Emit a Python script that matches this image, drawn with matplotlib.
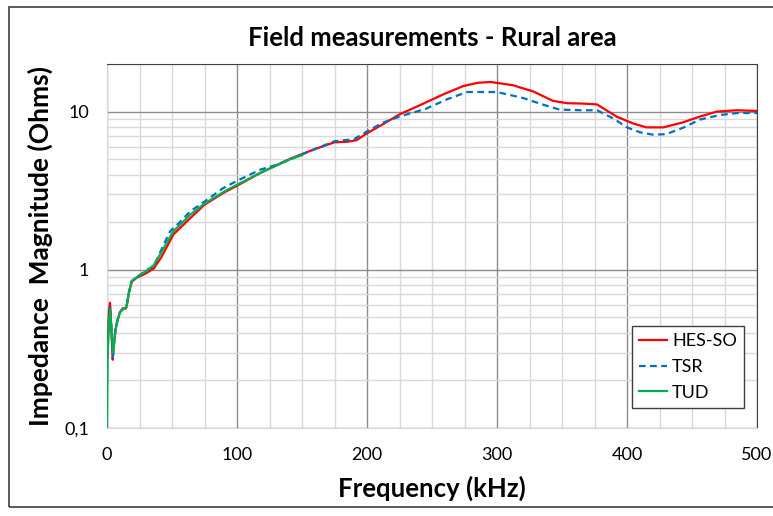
import matplotlib.pyplot as plt
import numpy as np
from matplotlib.patches import Rectangle
from matplotlib.ticker import FixedLocator, FuncFormatter

plt.rcParams['font.family'] = ['Lato', 'DejaVu Sans']

# HES-SO measurement
f_hes = [0.3, 1.5, 2.3, 3.2, 4.4, 5.2, 6.2, 8, 10, 12, 14.6, 17, 19, 22.8, 30, 36, 42, 51, 64, 75,
         89.5, 100, 118, 141, 160, 175, 185, 192, 200, 212, 225, 245, 260, 274, 285, 295, 312, 328,
         343, 354, 365, 377, 392, 405, 415, 428, 443, 456, 469, 484, 500]
z_hes = [0.28, 0.55, 0.62, 0.45, 0.27, 0.33, 0.40, 0.48, 0.54, 0.57, 0.57, 0.72, 0.84, 0.89, 0.95,
         1.02, 1.21, 1.67, 2.12, 2.58, 3.06, 3.4, 4.1, 5.04, 5.8, 6.4, 6.45, 6.6, 7.3, 8.3, 9.6, 11.4,
         13.0, 14.5, 15.2, 15.4, 14.7, 13.4, 11.7, 11.3, 11.25, 11.1, 9.3, 8.4, 7.95, 7.95, 8.55, 9.3,
         10.0, 10.2, 10.1]

# TSR measurement
f_tsr = [0.3, 1.5, 2.4, 3.3, 4.5, 5.4, 6.5, 8, 10, 13, 15, 17, 19, 23, 30, 36, 42, 48.5, 56, 64, 75,
         89.5, 100, 118, 130, 141, 160, 175, 190, 200, 212, 225, 245, 262, 277, 300, 320, 335, 348,
         365, 377, 390, 400, 410, 420, 430, 443, 456, 471, 485, 500]
z_tsr = [0.28, 0.50, 0.58, 0.43, 0.28, 0.34, 0.42, 0.48, 0.54, 0.57, 0.58, 0.73, 0.85, 0.9, 0.99,
         1.05, 1.35, 1.75, 2.0, 2.34, 2.7, 3.29, 3.65, 4.3, 4.6, 5.0, 5.8, 6.5, 6.7, 7.5, 8.5, 9.3,
         10.4, 12.0, 13.3, 13.3, 12.2, 11.1, 10.3, 10.2, 10.2, 9.0, 7.95, 7.4, 7.15, 7.2, 7.9, 8.9,
         9.5, 9.8, 9.8]

# TUD measurement
f_tud = [0, 0.5, 1.5, 2.5, 3.4, 4.6, 5.5, 7, 10, 13, 15, 17, 19, 23, 30, 36, 42, 51, 64, 75, 89.5,
         100, 118, 141, 150]
z_tud = [0.1, 0.28, 0.48, 0.56, 0.42, 0.30, 0.35, 0.44, 0.54, 0.57, 0.58, 0.73, 0.85, 0.9, 0.98,
         1.07, 1.3, 1.75, 2.23, 2.62, 3.1, 3.45, 4.1, 5.0, 5.3]

fig = plt.figure(figsize=(7.73, 5.16), dpi=100)
ax = fig.add_axes([107 / 773, 1 - 428 / 516, 650 / 773, 364 / 516])

ax.plot(f_hes, z_hes, color='#ff0000', linewidth=1.6, label='HES-SO', zorder=3)
ax.plot(f_tsr, z_tsr, color='#0070c0', linewidth=1.6, linestyle=(0, (3, 2)), label='TSR', zorder=4)
ax.plot(f_tud, z_tud, color='#00b050', linewidth=1.6, label='TUD', zorder=5)

ax.set_yscale('log')
ax.set_xlim(0, 500)
ax.set_ylim(0.1, 20)

ax.xaxis.set_major_locator(FixedLocator([0, 100, 200, 300, 400, 500]))
ax.xaxis.set_minor_locator(FixedLocator(np.arange(0, 501, 25)))
ax.yaxis.set_major_locator(FixedLocator([0.1, 1, 10]))
minors = [m * d for d in (0.1, 1, 10) for m in range(2, 10) if m * d <= 20]
ax.yaxis.set_minor_locator(FixedLocator(minors))
ax.yaxis.set_major_formatter(FuncFormatter(lambda v, p: {0.1: '0,1', 1: '1', 10: '10'}.get(round(v, 3), '')))
ax.yaxis.set_minor_formatter(FuncFormatter(lambda v, p: ''))

ax.grid(True, which='minor', color='#d9d9d9', linewidth=1.0)
ax.grid(True, which='major', color='#8c8c8c', linewidth=1.0)
ax.set_axisbelow(True)
ax.tick_params(which='both', length=0, labelsize=13, colors='black')
ax.tick_params(axis='x', pad=14)
ax.tick_params(axis='y', pad=13)

for s in ('left', 'bottom'):
    ax.spines[s].set_color('#d9d9d9')
for s in ('top', 'right'):
    ax.spines[s].set_color('#404040')

ax.set_title('Field measurements - Rural area', fontsize=18.5, fontweight='bold', pad=13)
ax.set_xlabel('Frequency (kHz)', fontsize=18.5, fontweight='bold', labelpad=9)
ax.set_ylabel('Impedance  Magnitude (Ohms)', fontsize=19, fontweight='bold', labelpad=8)

ax.legend(loc='lower right', bbox_to_anchor=(0.98, 0.055), fontsize=13, fancybox=False,
          edgecolor='#404040', framealpha=1, handlelength=1.55, handletextpad=0.25,
          borderaxespad=0, labelspacing=0.55)

fig.patches.append(Rectangle((9 / 773, 1 - 507 / 516), 770 / 773, 500 / 516, transform=fig.transFigure,
                             fill=False, edgecolor='#404040', linewidth=1.2))

fig.savefig('out.png', dpi=100)
